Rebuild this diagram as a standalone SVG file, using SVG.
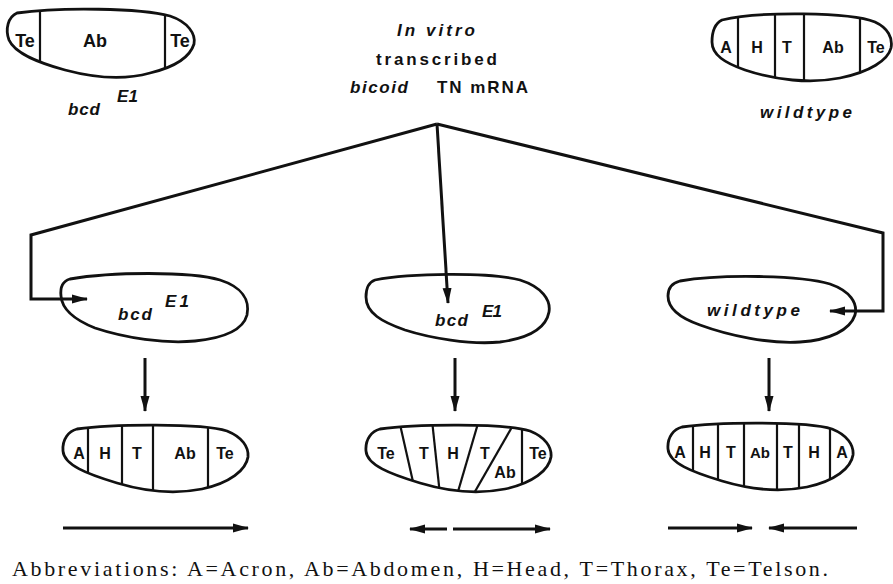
<svg xmlns="http://www.w3.org/2000/svg" width="893" height="584" viewBox="0 0 893 584">
  <style>
    .out { fill: none; stroke: #111; stroke-width: 2.8; stroke-linejoin: round; }
    .div { stroke: #111; stroke-width: 2.2; }
    .lbl { font-family: "Liberation Sans", Arial, sans-serif; font-weight: bold; font-size: 16px; fill: #111; text-anchor: middle; }
    .big { font-size: 18px; }
    .it { font-family: "Liberation Sans", Arial, sans-serif; font-weight: bold; font-style: italic; font-size: 17px; fill: #111; }
    .sup { font-size: 17px; }
    .up { font-family: "Liberation Sans", Arial, sans-serif; font-weight: bold; font-size: 17px; fill: #111; }
    .con { fill: none; stroke: #111; stroke-width: 3; stroke-linejoin: miter; }
    .cap { font-family: "Liberation Serif", "Times New Roman", serif; font-size: 22px; fill: #111; }
  </style>
  <defs>
    <marker id="head" markerUnits="userSpaceOnUse" markerWidth="16" markerHeight="10" refX="15" refY="5" orient="auto">
      <path d="M0,0.5 L16,5 L0,9.5 Z" fill="#111"/>
    </marker>
    <!-- embryo outlines, reused for outline strokes and segment clipping -->
    <path id="eTL" d="M17,13 C60,7 140,8 170,16 C188,22 196,34 194,44 C190,57 175,67 150,73 C125,80 95,78 65,70 C40,63 15,54 9,40 C5,29 8,17 17,13 Z"/>
    <path id="eTR" d="M722,20 C760,11 850,12 875,22 C888,28 893,38 891,48 C888,60 870,72 840,78 C810,84 775,80 745,70 C725,63 712,55 712,42 C712,31 716,23 722,20 Z"/>
    <path id="eBL" transform="translate(62,425)" d="M15,4 C50,-1 140,-2 165,6 C180,12 187,22 186,32 C184,45 168,58 140,64 C115,69 85,67 55,58 C25,49 2,40 1,26 C0,14 7,6 15,4 Z"/>
    <path id="eBM" transform="translate(365,425)" d="M15,4 C50,-1 140,-2 165,6 C180,12 187,22 186,32 C184,45 168,58 140,64 C115,69 85,67 55,58 C25,49 2,40 1,26 C0,14 7,6 15,4 Z"/>
    <path id="eBR" transform="translate(667,423)" d="M15,4 C50,-1 140,-2 165,6 C180,12 187,22 186,32 C184,45 168,58 140,64 C115,69 85,67 55,58 C25,49 2,40 1,26 C0,14 7,6 15,4 Z"/>
    <clipPath id="cTL"><use href="#eTL"/></clipPath>
    <clipPath id="cTR"><use href="#eTR"/></clipPath>
    <clipPath id="cBL"><use href="#eBL"/></clipPath>
    <clipPath id="cBM"><use href="#eBM"/></clipPath>
    <clipPath id="cBR"><use href="#eBR"/></clipPath>
  </defs>
  <rect width="893" height="584" fill="#fff"/>

  <!-- bcd E1 mutant fate map -->
  <g id="mutant-map">
    <g clip-path="url(#cTL)">
      <line class="div" x1="40" y1="0" x2="40" y2="90"/>
      <line class="div" x1="165" y1="0" x2="165" y2="90"/>
    </g>
    <use href="#eTL" class="out"/>
    <text class="lbl big" x="25" y="47">Te</text>
    <text class="lbl big" x="95" y="47">Ab</text>
    <text class="lbl big" x="180" y="47">Te</text>
    <text class="it" x="68" y="115" textLength="32">bcd</text>
    <text class="it sup" x="117" y="102" textLength="21">E1</text>
  </g>

  <!-- injected mRNA -->
  <g id="mrna">
    <text class="it" x="397" y="36" textLength="78">In  vitro</text>
    <text class="up" x="376" y="65" textLength="121">transcribed</text>
    <text class="it" x="350" y="93" textLength="58">bicoid</text>
    <text class="up" x="437" y="93" textLength="91">TN  mRNA</text>
  </g>

  <!-- wildtype fate map -->
  <g id="wildtype-map">
    <g clip-path="url(#cTR)">
      <line class="div" x1="738" y1="0" x2="738" y2="90"/>
      <line class="div" x1="775" y1="0" x2="775" y2="90"/>
      <line class="div" x1="804" y1="0" x2="804" y2="90"/>
      <line class="div" x1="860" y1="0" x2="860" y2="90"/>
    </g>
    <use href="#eTR" class="out"/>
    <text class="lbl" x="726" y="53">A</text>
    <text class="lbl" x="757" y="53">H</text>
    <text class="lbl" x="787" y="53">T</text>
    <text class="lbl" x="833" y="53">Ab</text>
    <text class="lbl" x="876" y="53">Te</text>
    <text class="it" x="760" y="118" textLength="92">wildtype</text>
  </g>

  <!-- recipient embryos -->
  <g id="recipient-bcd-left">
    <path class="out" d="M70,279 C110,272 190,271 220,280 C242,287 250,300 247,315 C243,330 225,338 195,341 C165,344 125,338 95,328 C75,320 62,310 61,296 C60,287 63,281 70,279 Z"/>
    <text class="it" x="118" y="320" textLength="34">bcd</text>
    <text class="it sup" x="165" y="307" textLength="24">E1</text>
  </g>
  <g id="recipient-bcd-middle">
    <path class="out" d="M375,280 C410,273 490,272 520,280 C542,287 551,300 549,312 C546,328 530,338 500,342 C470,345 430,338 405,330 C382,322 366,313 366,297 C366,288 369,282 375,280 Z"/>
    <text class="it" x="435" y="326" textLength="33">bcd</text>
    <text class="it sup" x="482" y="317" textLength="20">E1</text>
  </g>
  <g id="recipient-wildtype">
    <path class="out" d="M680,281 C720,274 800,275 830,284 C850,291 858,303 855,315 C850,330 830,340 800,342 C770,344 730,336 700,325 C680,318 668,308 668,296 C668,288 672,283 680,281 Z"/>
    <text class="it" x="707" y="316" textLength="93">wildtype</text>
  </g>

  <!-- resulting patterns -->
  <g id="result-left">
    <g clip-path="url(#cBL)">
      <line class="div" x1="88" y1="415" x2="88" y2="500"/>
      <line class="div" x1="122" y1="415" x2="122" y2="500"/>
      <line class="div" x1="153" y1="415" x2="153" y2="500"/>
      <line class="div" x1="208" y1="415" x2="208" y2="500"/>
    </g>
    <use href="#eBL" class="out"/>
    <text class="lbl" x="79" y="459">A</text>
    <text class="lbl" x="105" y="459">H</text>
    <text class="lbl" x="137" y="459">T</text>
    <text class="lbl" x="185" y="459">Ab</text>
    <text class="lbl" x="225" y="459">Te</text>
  </g>
  <g id="result-middle">
    <g clip-path="url(#cBM)">
      <line class="div" x1="399" y1="420" x2="416" y2="495"/>
      <line class="div" x1="432" y1="420" x2="440" y2="495"/>
      <line class="div" x1="479" y1="420" x2="457" y2="495"/>
      <line class="div" x1="516" y1="420" x2="473" y2="495"/>
      <line class="div" x1="522" y1="420" x2="522" y2="495"/>
    </g>
    <use href="#eBM" class="out"/>
    <text class="lbl" x="386" y="459">Te</text>
    <text class="lbl" x="424" y="459">T</text>
    <text class="lbl" x="453" y="459">H</text>
    <text class="lbl" x="485" y="459">T</text>
    <text class="lbl" x="505" y="478">Ab</text>
    <text class="lbl" x="538" y="459">Te</text>
  </g>
  <g id="result-right">
    <g clip-path="url(#cBR)">
      <line class="div" x1="693" y1="415" x2="693" y2="500"/>
      <line class="div" x1="718" y1="415" x2="718" y2="500"/>
      <line class="div" x1="744" y1="415" x2="744" y2="500"/>
      <line class="div" x1="777" y1="415" x2="777" y2="500"/>
      <line class="div" x1="799" y1="415" x2="799" y2="500"/>
      <line class="div" x1="830" y1="415" x2="830" y2="500"/>
    </g>
    <use href="#eBR" class="out"/>
    <text class="lbl" x="680" y="458">A</text>
    <text class="lbl" x="705" y="458">H</text>
    <text class="lbl" x="731" y="458">T</text>
    <text class="lbl" x="760" y="458" style="font-size:15px">Ab</text>
    <text class="lbl" x="788" y="458">T</text>
    <text class="lbl" x="814" y="458">H</text>
    <text class="lbl" x="842" y="458">A</text>
  </g>

  <!-- injection paths and development arrows -->
  <g id="connectors">
    <polyline class="con" points="437,124 31,235 31,299 87,299" marker-end="url(#head)"/>
    <polyline class="con" points="437,124 883,233 883,311 830,311" marker-end="url(#head)"/>
    <line class="con" x1="437" y1="124" x2="448" y2="303" marker-end="url(#head)"/>
    <line class="con" x1="145" y1="358" x2="145" y2="411" marker-end="url(#head)"/>
    <line class="con" x1="455" y1="358" x2="455" y2="411" marker-end="url(#head)"/>
    <line class="con" x1="769" y1="358" x2="769" y2="411" marker-end="url(#head)"/>
  </g>

  <!-- anterior-posterior polarity -->
  <g id="polarity">
    <line class="con" x1="63" y1="528" x2="248" y2="528" marker-end="url(#head)"/>
    <line class="con" x1="447" y1="529" x2="410" y2="529" marker-end="url(#head)"/>
    <line class="con" x1="453" y1="529" x2="550" y2="529" marker-end="url(#head)"/>
    <line class="con" x1="668" y1="528" x2="752" y2="528" marker-end="url(#head)"/>
    <line class="con" x1="857" y1="528" x2="769" y2="528" marker-end="url(#head)"/>
  </g>

  <text class="cap" x="12" y="576" textLength="816">Abbreviations: A=Acron, Ab=Abdomen, H=Head, T=Thorax, Te=Telson.</text>
</svg>
